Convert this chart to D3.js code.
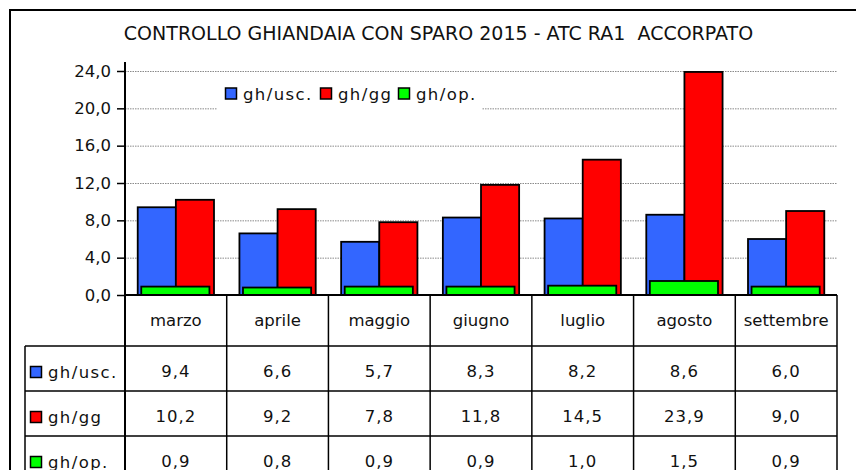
<!DOCTYPE html>
<html><head><meta charset="utf-8">
<script src="https://cdn.jsdelivr.net/npm/d3@7"></script>
<style>
html,body{margin:0;padding:0;background:#fff;}
svg{display:block;}
text{font-family:"DejaVu Sans",Verdana,sans-serif;fill:#111;}
</style></head>
<body>
<svg id="chart" width="856" height="470"></svg>
<script>
const categories = ['marzo','aprile','maggio','giugno','luglio','agosto','settembre'];
const seriesNames = ['gh/usc.','gh/gg','gh/op.'];
const ghUsc = [9.4,6.6,5.7,8.3,8.2,8.6,6.0];
const ghGg  = [10.2,9.2,7.8,11.8,14.5,23.9,9.0];
const ghOp  = [0.9,0.8,0.9,0.9,1.0,1.5,0.9];
const yTicks = [0,4,8,12,16,20,24];
const colors = ['#3366FF','#FF0000','#00FF00'];
const titleText = 'CONTROLLO GHIANDAIA CON SPARO 2015 - ATC RA1\u00a0 ACCORPATO';

const seriesValues = [ghUsc, ghGg, ghOp];
const locale = d3.formatLocale({decimal:',', thousands:'.', grouping:[3], currency:['','€']});
const fmt = locale.format('.1f');

const svg = d3.select('#chart');
const L = 125, R = 837, T = 71, B = 295;
const x0 = d3.scaleBand().domain(categories).range([L, R]).paddingInner(0).paddingOuter(0);
const bw = x0.bandwidth();
const x1 = d3.scaleBand().domain(seriesNames.slice(0,2)).range([0, bw]).paddingInner(0).paddingOuter(1/3);
const y = d3.scaleLinear().domain([0, 24]).range([B, T]);

// outer frame
svg.append('rect').attr('x',10).attr('y',10).attr('width',900).attr('height',520)
  .attr('fill','none').attr('stroke','#000').attr('stroke-width',2);

// title
svg.append('text').attr('x',438.5).attr('y',40).attr('text-anchor','middle')
  .style('font-size','19px').text(titleText);

// gridlines
const grid = svg.append('g').attr('transform',`translate(${L},0)`)
  .call(d3.axisLeft(y).tickValues(yTicks.filter(d=>d>0)).tickSize(-(R-L)).tickFormat(''));
grid.select('.domain').remove();
grid.selectAll('line').attr('stroke','#8a8a8a').attr('stroke-width',1).attr('stroke-dasharray','1.5,1');

// legend box (white, no border)
const leg = svg.append('g');
leg.append('rect').attr('x',217).attr('y',78).attr('width',265).attr('height',34).attr('fill','#fff');
const legX = [225, 320, 398];
seriesNames.forEach((s,i)=>{
  leg.append('rect').attr('x',legX[i]+0.5).attr('y',88).attr('width',11).attr('height',11)
    .attr('fill',colors[i]).attr('stroke','#000').attr('stroke-width',1.5);
  leg.append('text').attr('x',legX[i]+18).attr('y',100).style('font-size','16.5px')
    .style('letter-spacing','1.4px').text(s);
});

// bars
const gBars = svg.append('g');
categories.forEach((c,i)=>{
  const bx = x0(c);
  [0,1].forEach(k=>{
    const v = seriesValues[k][i];
    gBars.append('rect').attr('x', bx + x1(seriesNames[k])).attr('width', x1.bandwidth())
      .attr('y', y(v)).attr('height', y(0)-y(v))
      .attr('fill', colors[k]).attr('stroke','#000').attr('stroke-width',1.8);
  });
  const v = ghOp[i];
  gBars.append('rect').attr('x', bx + bw*0.16).attr('width', bw*0.67)
    .attr('y', y(v)).attr('height', y(0)-y(v))
    .attr('fill', colors[2]).attr('stroke','#000').attr('stroke-width',1.8);
});

// y axis
const ax = svg.append('g').attr('transform',`translate(${L},0)`)
  .call(d3.axisLeft(y).tickValues(yTicks).tickSize(8).tickSizeOuter(0).tickFormat(fmt));
ax.select('.domain').remove();
ax.selectAll('line').attr('stroke','#000').attr('stroke-width',1.5);
ax.selectAll('text').attr('x',-14).style('font-size','16.5px').style('font-family','"DejaVu Sans",sans-serif').attr('fill','#111');

// table
const rowTop = [346, 391, 436];
const rowH = 45;
const tbl = svg.append('g');
const line = (x1_,y1_,x2_,y2_,w)=>tbl.append('line').attr('x1',x1_).attr('y1',y1_).attr('x2',x2_).attr('y2',y2_)
  .attr('stroke','#000').attr('stroke-width',w||1.5);
line(L, 62, L, 480, 2);
categories.forEach((c,i)=>{ if(i>0) line(x0(c), B, x0(c), 480); });
line(R, B, R, 480);
line(25, 346, 25, 480);
rowTop.forEach(yy=>line(25, yy, R, yy));
line(25, 481, R, 481);
line(L-1, B, R, B, 2);

categories.forEach(c=>{
  tbl.append('text').attr('x', x0(c)+bw/2).attr('y', 320).attr('text-anchor','middle')
    .attr('dominant-baseline','central').style('font-size','16.5px').text(c);
});
seriesNames.forEach((s,k)=>{
  const cy = rowTop[k] + rowH/2;
  tbl.append('rect').attr('x',30.5).attr('y',cy-2).attr('width',11).attr('height',11)
    .attr('fill',colors[k]).attr('stroke','#000').attr('stroke-width',1.5);
  tbl.append('text').attr('x',48).attr('y',cy+9).style('font-size','16.5px')
    .style('letter-spacing','1.4px').text(s);
  categories.forEach((c,i)=>{
    tbl.append('text').attr('x', x0(c)+bw/2).attr('y', cy+8).attr('text-anchor','middle')
      .style('font-size','16.5px').style('letter-spacing','1px').text(fmt(seriesValues[k][i]));
  });
});
</script>
</body></html>
